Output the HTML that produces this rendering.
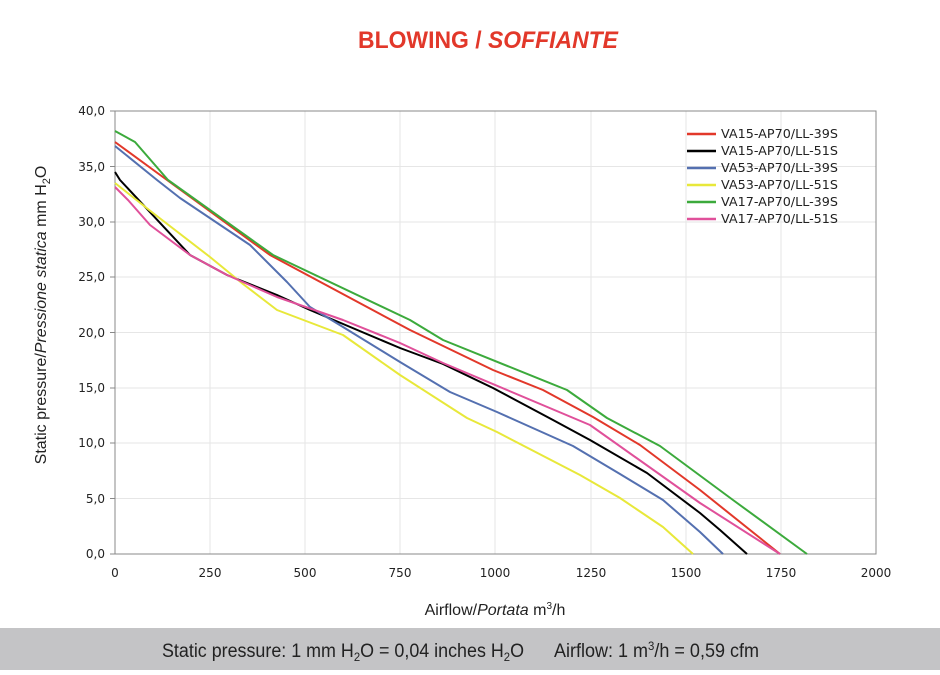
<!DOCTYPE html>
<html><head><style>
body{margin:0;width:940px;height:670px;background:#fff;overflow:hidden;font-family:"Liberation Sans",sans-serif}
</style></head><body>
<svg width="940" height="670" xmlns="http://www.w3.org/2000/svg" font-family="Liberation Sans, sans-serif">
<text x="358" y="48" textLength="260" lengthAdjust="spacingAndGlyphs" font-size="24" font-weight="bold" fill="#e2382a">BLOWING / <tspan font-style="italic">SOFFIANTE</tspan></text>
<g stroke="#e6e6e6" stroke-width="1">
<line x1="210" y1="111" x2="210" y2="554"/><line x1="305" y1="111" x2="305" y2="554"/><line x1="400" y1="111" x2="400" y2="554"/><line x1="495" y1="111" x2="495" y2="554"/><line x1="591" y1="111" x2="591" y2="554"/><line x1="686" y1="111" x2="686" y2="554"/><line x1="781" y1="111" x2="781" y2="554"/>
<line x1="115" y1="166.5" x2="876" y2="166.5"/><line x1="115" y1="222" x2="876" y2="222"/><line x1="115" y1="277" x2="876" y2="277"/><line x1="115" y1="332.5" x2="876" y2="332.5"/><line x1="115" y1="388" x2="876" y2="388"/><line x1="115" y1="443" x2="876" y2="443"/><line x1="115" y1="498.5" x2="876" y2="498.5"/>
</g>
<rect x="115" y="111" width="761" height="443" fill="none" stroke="#888" stroke-width="1"/>
<g stroke="#888"><line x1="110" y1="111" x2="115" y2="111"/><line x1="110" y1="166.5" x2="115" y2="166.5"/><line x1="110" y1="222" x2="115" y2="222"/><line x1="110" y1="277" x2="115" y2="277"/><line x1="110" y1="332.5" x2="115" y2="332.5"/><line x1="110" y1="388" x2="115" y2="388"/><line x1="110" y1="443" x2="115" y2="443"/><line x1="110" y1="498.5" x2="115" y2="498.5"/><line x1="110" y1="554" x2="115" y2="554"/></g>
<g font-size="12" fill="#222" text-anchor="end" font-family="DejaVu Sans, sans-serif">
<text x="105" y="115">40,0</text><text x="105" y="171">35,0</text><text x="105" y="226">30,0</text><text x="105" y="281">25,0</text><text x="105" y="337">20,0</text><text x="105" y="392">15,0</text><text x="105" y="447">10,0</text><text x="105" y="503">5,0</text><text x="105" y="558">0,0</text>
</g>
<g font-size="12" fill="#222" text-anchor="middle" font-family="DejaVu Sans, sans-serif">
<text x="115" y="577">0</text><text x="210" y="577">250</text><text x="305" y="577">500</text><text x="400" y="577">750</text><text x="495" y="577">1000</text><text x="591" y="577">1250</text><text x="686" y="577">1500</text><text x="781" y="577">1750</text><text x="876" y="577">2000</text>
</g>
<text transform="translate(46,315) rotate(-90)" text-anchor="middle" font-size="16" fill="#222">Static pressure/<tspan font-style="italic">Pressione statica</tspan>  mm  H<tspan font-size="11" dy="4">2</tspan><tspan dy="-4">O</tspan></text>
<text x="495" y="615" text-anchor="middle" font-size="16" fill="#222">Airflow/<tspan font-style="italic">Portata</tspan>  m<tspan font-size="10" dy="-6">3</tspan><tspan dy="6">/h</tspan></text>
<g fill="none" stroke-width="2" stroke-linejoin="round">
<polyline stroke="#e2382a" points="115,142 167,180 270,255 410,330 493,370 543,390 593,417 640,445 700,490 780,554"/>
<polyline stroke="#000" points="115,172 120,180 190,255 227,275 277,295 310,310 400,348 443,364 493,388 553,420 590,440 647,473 700,513 720,530 747,554"/>
<polyline stroke="#5470b0" points="115,146 157,180 180,198 250,245 287,282 310,307 343,327 400,362 450,392 497,412 573,446 620,474 663,500 700,532 723,554"/>
<polyline stroke="#e8e83a" points="115,183 153,213 210,257 243,284 277,310 343,335 400,375 467,418 497,432 580,475 620,498 663,527 693,554"/>
<polyline stroke="#3caa3c" points="115,131 135,142 168,180 273,255 410,320 443,340 567,390 607,418 660,446 733,500 807,554"/>
<polyline stroke="#e0509a" points="115,187 128,200 150,225 190,255 227,275 277,297 343,320 400,343 443,363 590,425 700,503 780,554"/>
</g>
<g stroke-width="2.5">
<line x1="687" y1="134" x2="716" y2="134" stroke="#e2382a"/>
<line x1="687" y1="151" x2="716" y2="151" stroke="#000"/>
<line x1="687" y1="168" x2="716" y2="168" stroke="#5470b0"/>
<line x1="687" y1="185" x2="716" y2="185" stroke="#e8e83a"/>
<line x1="687" y1="202" x2="716" y2="202" stroke="#3caa3c"/>
<line x1="687" y1="219" x2="716" y2="219" stroke="#e0509a"/>
</g>
<g font-size="12" fill="#222" font-family="DejaVu Sans, sans-serif">
<text x="721" y="138" textLength="117" lengthAdjust="spacingAndGlyphs">VA15-AP70/LL-39S</text><text x="721" y="155" textLength="117" lengthAdjust="spacingAndGlyphs">VA15-AP70/LL-51S</text><text x="721" y="172" textLength="117" lengthAdjust="spacingAndGlyphs">VA53-AP70/LL-39S</text><text x="721" y="189" textLength="117" lengthAdjust="spacingAndGlyphs">VA53-AP70/LL-51S</text><text x="721" y="206" textLength="117" lengthAdjust="spacingAndGlyphs">VA17-AP70/LL-39S</text><text x="721" y="223" textLength="117" lengthAdjust="spacingAndGlyphs">VA17-AP70/LL-51S</text>
</g>
<rect x="0" y="628" width="940" height="42" fill="#c4c4c6"/>
<text x="162" y="657" textLength="362" lengthAdjust="spacingAndGlyphs" font-size="19" fill="#222">Static pressure: 1 mm H<tspan font-size="12" dy="4">2</tspan><tspan dy="-4">O = 0,04 inches H</tspan><tspan font-size="12" dy="4">2</tspan><tspan dy="-4">O</tspan></text>
<text x="554" y="657" textLength="205" lengthAdjust="spacingAndGlyphs" font-size="19" fill="#222">Airflow: 1 m<tspan font-size="12" dy="-7">3</tspan><tspan dy="7">/h = 0,59 cfm</tspan></text>
</svg>
</body></html>
